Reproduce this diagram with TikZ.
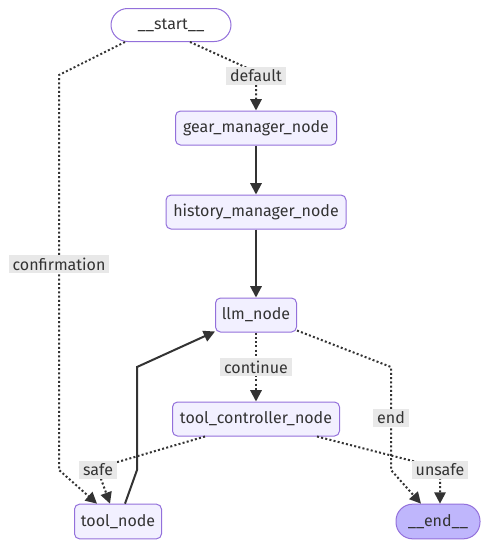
\documentclass[tikz,border=0pt]{standalone}
\usepackage{fontspec}
\setmainfont{Fira Sans}
\usetikzlibrary{arrows.meta,calc}
\definecolor{nodefill}{HTML}{F2F0FF}
\definecolor{nodeline}{HTML}{9370DB}
\definecolor{endfill}{HTML}{BFB6FC}
\definecolor{ink}{HTML}{333333}
\definecolor{lblfill}{HTML}{E8E8E8}
\tikzset{
  box/.style={draw=nodeline, line width=0.75pt, fill=nodefill, rounded corners=3.75pt,
    inner sep=0pt, minimum height=25.5pt, text=ink, font=\fontsize{12}{14}\selectfont},
  pill/.style={box, rounded corners=12.5pt},
  lbl/.style={fill=lblfill, text=ink, inner xsep=3pt, inner ysep=0pt, minimum height=13.5pt,
    font=\fontsize{12}{14}\selectfont},
  solidedge/.style={draw=ink, line width=1.5pt, -{Triangle[length=8.5pt,width=8.5pt]}},
  dotedge/.style={draw=ink, line width=1.5pt, dash pattern=on 1.5pt off 1.7pt,
    -{Triangle[length=8.5pt,width=8.5pt]}},
}
\begin{document}
\begin{tikzpicture}[x=0.75pt,y=-0.75pt]
\useasboundingbox (0,0) rectangle (488,547);
% nodes
\node[pill, fill=white, minimum width=90pt, minimum height=24.75pt] (start) at (171,25) {\_\_start\_\_};
\node[box, minimum width=120.75pt] (gear) at (256,128) {gear\_manager\_node};
\node[box, minimum width=135pt] (hist) at (256,212) {history\_manager\_node};
\node[box, minimum width=60.75pt] (llm) at (256,315) {llm\_node};
\node[box, minimum width=125.25pt] (tc) at (256,419) {tool\_controller\_node};
\node[box, minimum width=65.25pt, minimum height=26pt] (tool) at (118,521.5) {tool\_node};
\node[pill, fill=endfill, minimum width=63pt, minimum height=26pt] (end) at (438,521.5) {\_\_end\_\_};
% bend points
\coordinate (d1) at (256,72);
\coordinate (c1) at (59,75);
\coordinate (c2) at (59,470);
\coordinate (e1) at (391,367);
\coordinate (e2) at (391,470);
\coordinate (s1) at (97,468);
\coordinate (u1) at (440,468);
\coordinate (t1) at (137,470);
\coordinate (t2) at (137,367);
% edges
\draw[dotedge] ($(start.south)+(19,0)$) -- (d1) -- (gear.north);
\draw[dotedge] ($(start.south)+(-46,0)$) -- (c1) -- (c2) -- ($(tool.north)+(-21,0)$);
\draw[solidedge] (gear.south) -- (hist.north);
\draw[solidedge] (hist.south) -- (llm.north);
\draw[dotedge] (llm.south) -- (tc.north);
\draw[dotedge] ($(llm.south east)+(0,-2)$) -- (e1) -- (e2) -- ($(end.north)+(-17,0)$);
\draw[dotedge] ($(tc.south)+(-51,0)$) -- (s1) -- ($(tool.north)+(-8,0)$);
\draw[dotedge] ($(tc.south)+(61,0)$) -- (u1) -- ($(end.north)+(2,0)$);
\draw[solidedge] ($(tool.north)+(7,0)$) -- (t1) -- (t2) -- ($(llm.south west)+(0,-1)$);
% labels
\node[lbl] (ldefault) at (256,76) {default};
\node[lbl] (lconf) at (59,264) {confirmation};
\node[lbl] (lcont) at (256,367) {continue};
\node[lbl] (lend) at (391,418) {end};
\node[lbl] (lsafe) at (98,470) {safe};
\node[lbl] (lunsafe) at (440,470) {unsafe};
\end{tikzpicture}
\end{document}
